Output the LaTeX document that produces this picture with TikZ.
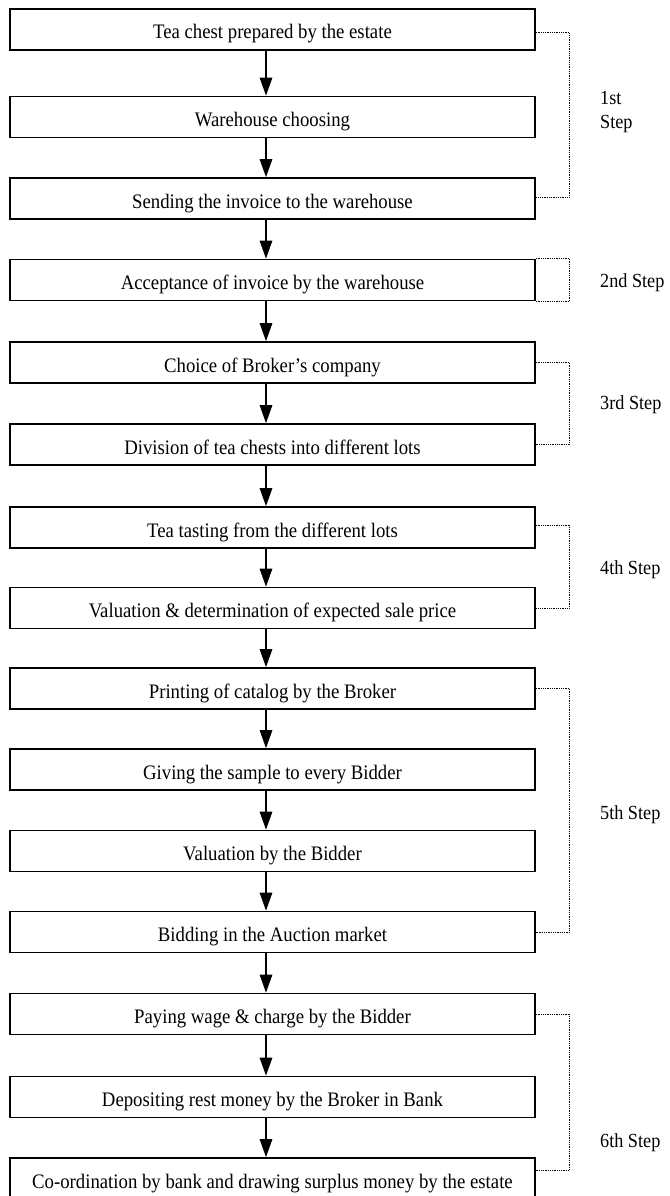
\documentclass[tikz,border=0pt]{standalone}
\usepackage{fontspec}
\setmainfont{Liberation Serif}[FakeStretch=0.91]
\usetikzlibrary{arrows.meta}
\begin{document}
\begin{tikzpicture}[x=1pt,y=-1pt,
  stepbox/.style={draw=black,line width=1.7pt,rectangle,minimum width=525pt,minimum height=41pt,inner sep=0pt,
    text height=19pt,text depth=0pt,font=\fontsize{20.6}{24}\selectfont},
  arr/.style={line width=1.3pt,-{Triangle[width=12.5pt,length=18pt]}},
  brk/.style={line width=1pt,dash pattern=on 1pt off 0.8pt},
  lbl/.style={anchor=west,inner sep=0pt,font=\fontsize{20}{23.5}\selectfont,align=left}]
\useasboundingbox (0,0) rectangle (669,1196);
\node[stepbox] (b1)  at (272.5,29.5)  {Tea chest prepared by the estate};
\node[stepbox] (b2)  at (272.5,117)   {Warehouse choosing};
\node[stepbox] (b3)  at (272.5,198.5) {Sending the invoice to the warehouse};
\node[stepbox] (b4)  at (272.5,280)   {Acceptance of invoice by the warehouse};
\node[stepbox] (b5)  at (272.5,362.5) {Choice of Broker’s company};
\node[stepbox] (b6)  at (272.5,444.5) {Division of tea chests into different lots};
\node[stepbox] (b7)  at (272.5,527.5) {Tea tasting from the different lots};
\node[stepbox] (b8)  at (272.5,608)   {Valuation \& determination of expected sale price};
\node[stepbox] (b9)  at (272.5,688.5) {Printing of catalog by the Broker};
\node[stepbox] (b10) at (272.5,769.5) {Giving the sample to every Bidder};
\node[stepbox] (b11) at (272.5,851)   {Valuation by the Bidder};
\node[stepbox] (b12) at (272.5,932)   {Bidding in the Auction market};
\node[stepbox] (b13) at (272.5,1014)  {Paying wage \& charge by the Bidder};
\node[stepbox] (b14) at (272.5,1097)  {Depositing rest money by the Broker in Bank};
\node[stepbox] (b15) at (272.5,1178.5){Co-ordination by bank and drawing surplus money by the estate};
\foreach \i [count=\j from 2] in {1,...,14}
  \draw[arr] ([xshift=-6.5pt]b\i.south) -- ([xshift=-6.5pt]b\j.north);
% brackets
\draw[brk] ([yshift=-3.5pt]b1.east) -- ++(34,0) |- ([yshift=1.5pt]b3.east);
\draw[brk] (b4.north east) -- ++(34,0) |- (b4.south east);
\draw[brk] (b5.east) -- ++(34,0) |- (b6.east);
\draw[brk] ([yshift=2.5pt]b7.east) -- ++(34,0) |- (b8.east);
\draw[brk] (b9.east) -- ++(34,0) |- (b12.east);
\draw[brk] (b13.east) -- ++(34,0) |- ([yshift=8.5pt]b15.east);
% labels
\node[lbl] (l1) at (600,112) {1st\\Step};
\node[lbl] (l2) at (600,283) {2nd Step};
\node[lbl] (l3) at (600,405) {3rd Step};
\node[lbl] (l4) at (600,570) {4th Step};
\node[lbl] (l5) at (600,815) {5th Step};
\node[lbl] (l6) at (600,1143) {6th Step};
\end{tikzpicture}
\end{document}
